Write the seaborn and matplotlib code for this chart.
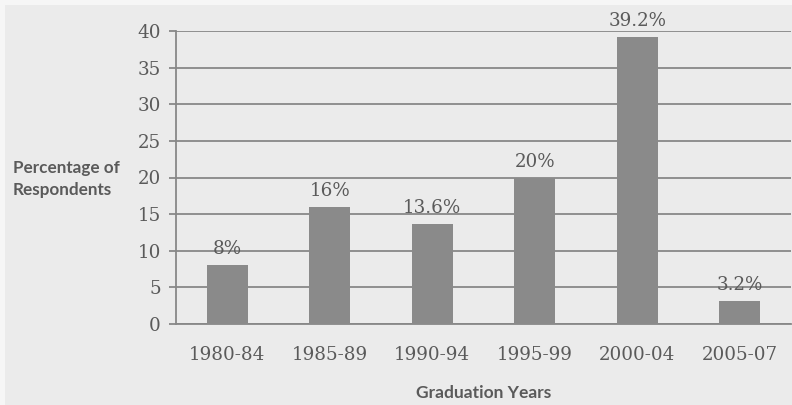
import matplotlib
matplotlib.use("Agg")
import matplotlib.pyplot as plt
import matplotlib.patches as mpatches
import seaborn as sns
import pandas as pd
import numpy as np

categories = ["1980-84", "1985-89", "1990-94", "1995-99", "2000-04", "2005-07"]
values = [8, 16, 13.6, 20, 39.2, 3.2]
bar_labels = ["8%", "16%", "13.6%", "20%", "39.2%", "3.2%"]
yticks = [0, 5, 10, 15, 20, 25, 30, 35, 40]

df = pd.DataFrame({"period": categories, "pct": values})

sns.set_style("white")
bg = "#ebebeb"
text_c = "#5a5a5a"
grid_c = "#888888"
bar_c = "#8a8a8a"

fig = plt.figure(figsize=(7.92, 4.05), dpi=100, facecolor=bg)
# light strip at top and left edge of the scanned page
fig.patches.append(mpatches.Rectangle((0, 1 - 5 / 405), 1, 5 / 405, transform=fig.transFigure,
                                      facecolor="#f6f6f6", edgecolor="none", zorder=0))
fig.patches.append(mpatches.Rectangle((0, 0), 5 / 792, 1, transform=fig.transFigure,
                                      facecolor="#f6f6f6", edgecolor="none", zorder=0))

ax = fig.add_axes([176 / 792, 1 - 324 / 405, (791 - 176) / 792, (324 - 31) / 405])
ax.set_facecolor(bg)

sns.barplot(data=df, x="period", y="pct", color=bar_c, width=0.4, saturation=1,
            edgecolor="none", ax=ax, zorder=3)

ax.set_ylim(0, 40)
ax.set_xlim(-0.5, len(categories) - 0.5)
ax.set_yticks(yticks)
ax.yaxis.grid(True, color=grid_c, linewidth=1.3, zorder=0)
ax.set_axisbelow(True)

for s in ["top", "right"]:
    ax.spines[s].set_visible(False)
for s in ["left", "bottom"]:
    ax.spines[s].set_color(grid_c)
    ax.spines[s].set_linewidth(1.3)

ax.set_xticks(np.arange(len(categories)))
ax.set_xticklabels(categories)
ax.set_xticks(np.arange(-0.5, len(categories), 1), minor=True)
ax.tick_params(axis="x", which="major", length=0, pad=16, labelsize=13.2, labelcolor=text_c)
ax.tick_params(axis="x", which="minor", length=5, width=1.3, color=grid_c, direction="out")
ax.tick_params(axis="y", which="major", length=5, width=1.3, color=grid_c, direction="out",
               pad=6, labelsize=13.2, labelcolor=text_c, left=True)
for lab in ax.get_xticklabels() + ax.get_yticklabels():
    lab.set_family("DejaVu Serif")

for i, (v, lbl) in enumerate(zip(values, bar_labels)):
    ax.annotate(lbl, (i, v), xytext=(0, 5), textcoords="offset points", ha="center", va="bottom",
                fontsize=13.2, color=text_c, family="DejaVu Serif", zorder=4)

ax.set_xlabel("")
ax.set_ylabel("")
fig.text(13 / 792, 1 - 168 / 405, "Percentage of", ha="left", va="center", fontsize=12.3,
         fontweight="bold", color=text_c, family="Lato")
fig.text(13 / 792, 1 - 190 / 405, "Respondents", ha="left", va="center", fontsize=12.3,
         fontweight="bold", color=text_c, family="Lato")
fig.text(484 / 792, 1 - 393 / 405, "Graduation Years", ha="center", va="center", fontsize=12.5,
         fontweight="bold", color=text_c, family="Lato")

fig.savefig("out.png", dpi=100, facecolor=bg)
